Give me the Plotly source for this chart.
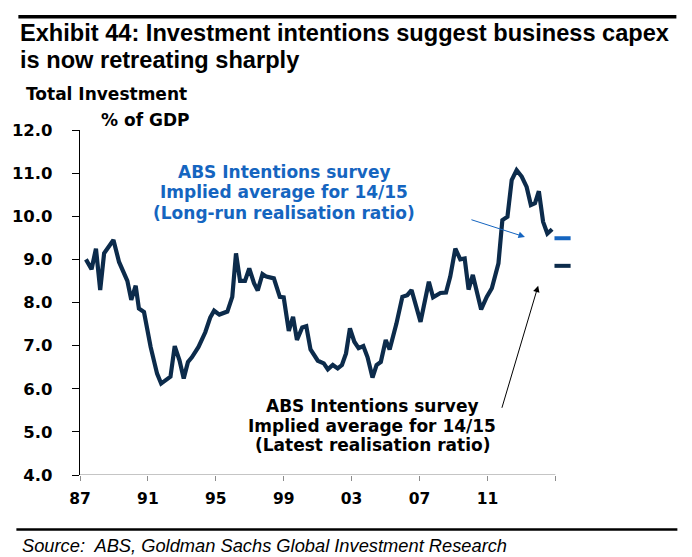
import plotly.graph_objects as go

# ---- data ----
years = [1987.35, 1987.68, 1987.94, 1988.19, 1988.42, 1988.66, 1988.97, 1989.30, 1989.79, 1990.02,
         1990.28, 1990.47, 1990.77, 1991.16, 1991.54, 1991.78, 1992.33, 1992.58, 1992.86, 1993.11,
         1993.36, 1993.59, 1993.98, 1994.38, 1994.67, 1994.90, 1995.21, 1995.68, 1995.97, 1996.19,
         1996.43, 1996.72, 1996.97, 1997.25, 1997.47, 1997.75, 1997.98, 1998.42, 1998.77, 1999.00,
         1999.30, 1999.55, 1999.78, 2000.09, 2000.33, 2000.58, 2001.01, 2001.36, 2001.60, 2001.89,
         2002.18, 2002.43, 2002.67, 2002.90, 2003.16, 2003.41, 2003.69, 2003.94, 2004.23, 2004.47,
         2004.72, 2005.01, 2005.24, 2005.64, 2005.99, 2006.28, 2006.53, 2007.06, 2007.55, 2007.80,
         2008.23, 2008.56, 2008.81, 2009.11, 2009.40, 2009.66, 2009.89, 2010.14, 2010.63, 2010.96,
         2011.26, 2011.65, 2011.88, 2012.18, 2012.43, 2012.72, 2013.02, 2013.31, 2013.56, 2013.80,
         2014.03, 2014.28, 2014.53, 2014.81]
investment = [9.00, 8.77, 9.25, 8.29, 9.14, 9.29, 9.45, 8.94, 8.50, 8.06,
              8.39, 7.86, 7.78, 6.97, 6.35, 6.12, 6.28, 6.99, 6.66, 6.24,
              6.62, 6.73, 6.97, 7.31, 7.65, 7.81, 7.72, 7.79, 8.13, 9.14,
              8.50, 8.50, 8.79, 8.45, 8.28, 8.66, 8.60, 8.56, 8.13, 8.12,
              7.34, 7.67, 7.13, 7.42, 7.45, 6.91, 6.65, 6.59, 6.45, 6.55,
              6.47, 6.55, 6.82, 7.40, 7.09, 6.94, 6.99, 6.73, 6.26, 6.55,
              6.62, 7.13, 6.91, 7.51, 8.13, 8.17, 8.29, 7.55, 8.48, 8.12,
              8.22, 8.23, 8.60, 9.25, 9.00, 9.02, 8.30, 8.64, 7.84, 8.13,
              8.33, 8.91, 9.91, 9.99, 10.84, 11.07, 10.92, 10.68, 10.26, 10.30,
              10.58, 9.87, 9.60, 9.70]

survey_years = [2014.95, 2015.9]
long_run_avg = [9.49, 9.49]
latest_avg = [8.85, 8.85]

y_ticks = [4, 5, 6, 7, 8, 9, 10, 11, 12]
y_ticktext = ["4.0", "5.0", "6.0", "7.0", "8.0", "9.0", "10.0", "11.0", "12.0"]
x_ticks = [1987, 1991, 1995, 1999, 2003, 2007, 2011, 2015]
x_ticktext = ["87", "91", "95", "99", "03", "07", "11", ""]

title_1 = "Exhibit 44: Investment intentions suggest business capex"
title_2 = "is now retreating sharply"
source = "Source:  ABS, Goldman Sachs Global Investment Research"

# ---- layout geometry (pixels) ----
W, H = 692, 557
L, T = 77, 130
PW, PH = 497, 345
R = W - L - PW
B = H - T - PH

def px(x):
    return (x - L) / PW

def py(y):
    return (T + PH - y) / PH

NAVY = "#0c2b4b"
BLUE = "#1565c0"
VERD = "DejaVu Sans"
ANN_SIZE = 17

fig = go.Figure()
fig.add_trace(go.Scatter(x=years, y=investment, mode="lines",
                         line=dict(color=NAVY, width=4.2), hoverinfo="skip"))
fig.add_trace(go.Scatter(x=survey_years, y=long_run_avg, mode="lines",
                         line=dict(color=BLUE, width=4), hoverinfo="skip"))
fig.add_trace(go.Scatter(x=survey_years, y=latest_avg, mode="lines",
                         line=dict(color=NAVY, width=4), hoverinfo="skip"))

ann = []
# title
TFONT = dict(family="Liberation Sans Narrow, Liberation Sans", size=23.6, color="black", weight="bold")
ann.append(dict(text=title_1, x=px(15), y=py(32.5), xanchor="left", yanchor="middle", font=TFONT))
ann.append(dict(text=title_2, x=px(15), y=py(60.5), xanchor="left", yanchor="middle", font=TFONT))
ann.append(dict(text="Total Investment", x=px(21), y=py(94), xanchor="left", yanchor="middle",
                font=dict(family=VERD, size=ANN_SIZE, color="black", weight="bold")))
ann.append(dict(text="% of GDP", x=px(96), y=py(120), xanchor="left", yanchor="middle",
                font=dict(family=VERD, size=ANN_SIZE, color="black", weight="bold")))
# blue note
for txt, yy in [("ABS Intentions survey", 171.5), ("Implied average for 14/15", 192.2),
                ("(Long-run realisation ratio)", 212.8)]:
    ann.append(dict(text=txt, x=px(282.5), y=py(yy), xanchor="center", yanchor="middle",
                    font=dict(family=VERD, size=ANN_SIZE, color=BLUE, weight="bold")))
# black note
for txt, yy in [("ABS Intentions survey", 406), ("Implied average for 14/15", 425.7),
                ("(Latest realisation ratio)", 445)]:
    ann.append(dict(text=txt, x=px(371), y=py(yy), xanchor="center", yanchor="middle",
                    font=dict(family=VERD, size=ANN_SIZE, color="black", weight="bold")))
# source
ann.append(dict(text=source, x=px(17), y=py(545), xanchor="left", yanchor="middle",
                font=dict(family="Liberation Sans", size=18.3, color="black", style="italic")))
for a in ann:
    a.update(xref="paper", yref="paper", showarrow=False)

# arrows
ann.append(dict(x=2013.21, y=9.52, xref="x", yref="y", ax=-55, ay=-17.7, text="",
                showarrow=True, arrowhead=2, arrowsize=1.3, arrowwidth=1, arrowcolor=BLUE))
ann.append(dict(x=2013.99, y=8.39, xref="x", yref="y", ax=-36.7, ay=123.6, text="",
                showarrow=True, arrowhead=2, arrowsize=1.3, arrowwidth=1, arrowcolor="black"))

shapes = [
    dict(type="line", xref="paper", yref="paper", x0=px(15), x1=px(677), y0=py(16.7), y1=py(16.7),
         line=dict(color="black", width=3.5)),
    dict(type="line", xref="paper", yref="paper", x0=px(13), x1=px(678), y0=py(529.5), y1=py(529.5),
         line=dict(color="black", width=2.5)),
    dict(type="line", xref="x", yref="y", x0=1987, x1=2015, y0=4, y1=4,
         line=dict(color="#8c8c8c", width=1.2)),
]

fig.update_layout(
    width=W, height=H,
    margin=dict(l=L, r=R, t=T, b=B),
    paper_bgcolor="white", plot_bgcolor="white",
    showlegend=False,
    annotations=ann, shapes=shapes,
    xaxis=dict(range=[1987, 2016.1], showgrid=False, zeroline=False, showline=False,
               tickmode="array", tickvals=x_ticks, ticktext=x_ticktext,
               ticks="outside", ticklen=5, tickcolor="#8c8c8c", tickwidth=1.2,
               tickfont=dict(family=VERD, size=15.5, color="black", weight="bold"),
               ticklabelstandoff=4),
    yaxis=dict(range=[4, 12], showgrid=False, zeroline=False, showline=True,
               linecolor="black", linewidth=1.2,
               tickmode="array", tickvals=y_ticks, ticktext=y_ticktext,
               ticks="outside", ticklen=7, tickcolor="black", tickwidth=1.2,
               tickfont=dict(family=VERD, size=16.5, color="black", weight="bold"),
               ticklabelstandoff=16),
)

fig.write_html("out.html", config={"displayModeBar": False},
               post_script="document.body.style.margin='0px';")
